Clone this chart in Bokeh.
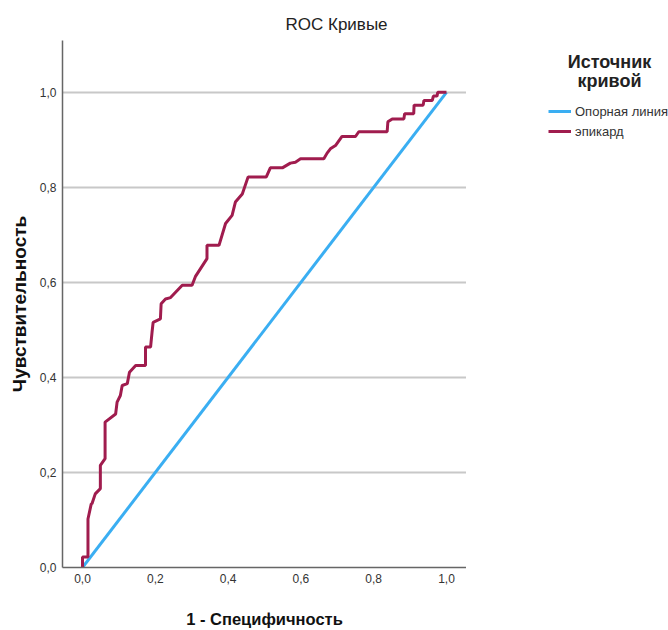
from bokeh.plotting import figure
from bokeh.layouts import row
from bokeh.models import (FixedTicker, CustomJSTickFormatter, Legend, LegendItem,
                          Range1d)
from bokeh.core.properties import value
from bokeh.embed import file_html
from bokeh.resources import INLINE

# ROC curve (1 - specificity, sensitivity)
fpr = [0.0, 0.0, 0.015, 0.015, 0.024, 0.026, 0.035, 0.049, 0.049, 0.062, 0.062,
       0.091, 0.095, 0.104, 0.109, 0.123, 0.129, 0.146, 0.173, 0.173, 0.187,
       0.191, 0.194, 0.214, 0.216, 0.228, 0.242, 0.274, 0.301, 0.310, 0.342,
       0.342, 0.375, 0.393, 0.411, 0.420, 0.439, 0.455, 0.505, 0.516, 0.549,
       0.571, 0.585, 0.599, 0.663, 0.672, 0.681, 0.695, 0.713, 0.750, 0.759,
       0.837, 0.839, 0.851, 0.883, 0.885, 0.910, 0.911, 0.936, 0.938, 0.961,
       0.964, 0.974, 0.976, 1.0]
tpr = [0.0, 0.022, 0.022, 0.102, 0.134, 0.134, 0.155, 0.166, 0.215, 0.229, 0.306,
       0.323, 0.348, 0.362, 0.383, 0.387, 0.411, 0.425, 0.425, 0.464, 0.464,
       0.495, 0.516, 0.523, 0.555, 0.565, 0.568, 0.594, 0.594, 0.612, 0.650,
       0.678, 0.678, 0.724, 0.741, 0.769, 0.786, 0.822, 0.822, 0.841, 0.841,
       0.851, 0.853, 0.860, 0.860, 0.872, 0.881, 0.888, 0.907, 0.907, 0.917,
       0.917, 0.938, 0.944, 0.944, 0.955, 0.955, 0.973, 0.973, 0.983, 0.983,
       0.992, 0.992, 1.0, 1.0]
ref_x = [0.0, 1.0]
ref_y = [0.0, 1.0]
ticks = [0.0, 0.2, 0.4, 0.6, 0.8, 1.0]
series_names = ["Опорная линия", "эпикард"]
legend_title_lines = ["Источник", "кривой"]
chart_title = "ROC Кривые"

FONT = "Liberation Sans"
REF_COLOR = "#3aaef2"
ROC_COLOR = "#a01c4e"

p = figure(width=466, height=630, output_backend="svg", toolbar_location=None,
           x_range=Range1d(-0.055, 1.055), y_range=Range1d(0.0, 1.109),
           min_border_left=62, min_border_right=0, min_border_top=40,
           min_border_bottom=63)
p.outline_line_color = None
p.background_fill_color = "white"
p.border_fill_color = "white"

p.title.text = chart_title
p.title.align = "left"
p.title.offset = 223
p.title.text_font = FONT
p.title.text_font_size = "17px"
p.title.text_font_style = "normal"
p.title.text_color = "#222222"
p.title.standoff = 14

fmt = CustomJSTickFormatter(code="return tick.toFixed(1).replace('.', ',');")
for ax in (p.xaxis[0], p.yaxis[0]):
    ax.ticker = FixedTicker(ticks=ticks)
    ax.formatter = fmt
    ax.major_tick_out = 0
    ax.major_tick_in = 0
    ax.minor_tick_out = 0
    ax.minor_tick_in = 0
    ax.axis_line_color = "#666666"
    ax.axis_line_width = 1.5
    ax.major_label_text_font = FONT
    ax.major_label_text_font_size = "12px"
    ax.major_label_text_color = "#333333"
    ax.axis_label_text_font = FONT
    ax.axis_label_text_font_style = "bold"
    ax.axis_label_text_color = "#111111"

p.xaxis.axis_label = "1 - Специфичность"
p.yaxis.axis_label = "Чувствительность"
p.xaxis.axis_label_text_font_size = "16.5px"
p.yaxis.axis_label_text_font_size = "19px"
p.xaxis.major_label_standoff = 6
p.yaxis.major_label_standoff = 6
p.xaxis.axis_label_standoff = 24
p.yaxis.axis_label_standoff = 7

p.xgrid.grid_line_color = None
p.ygrid.ticker = FixedTicker(ticks=[0.2, 0.4, 0.6, 0.8, 1.0])
p.ygrid.grid_line_color = "#c8c8c8"
p.ygrid.grid_line_width = 2

p.line(ref_x, ref_y, line_color=REF_COLOR, line_width=3)
p.line(fpr, tpr, line_color=ROC_COLOR, line_width=3)

# Legend panel on the right; its frame is aligned with the main frame
# (rows 40..567), so the y range maps data units to page pixels.
q = figure(width=202, height=630, output_backend="svg", toolbar_location=None,
           x_range=Range1d(0, 202), y_range=Range1d(567, 40),
           min_border=0, x_axis_type=None, y_axis_type=None)
q.title = None
q.outline_line_color = None
q.grid.grid_line_color = None
q.background_fill_color = "white"
q.border_fill_color = "white"

q.text(x=[143, 143], y=[61, 80], text=legend_title_lines,
       text_font=value(FONT), text_font_size="18px", text_font_style="bold",
       text_color="#222222", text_align="center", text_baseline="middle")

# legend swatches: renderers kept outside the visible range
l_ref = q.line([-50, -40], [-50, -40], line_color=REF_COLOR, line_width=3)
l_roc = q.line([-50, -40], [-50, -40], line_color=ROC_COLOR, line_width=3)
legend = Legend(items=[LegendItem(label=series_names[0], renderers=[l_ref]),
                       LegendItem(label=series_names[1], renderers=[l_roc])],
                location=(82, 428), background_fill_alpha=0,
                border_line_color=None, label_text_font=FONT,
                label_text_font_size="13px", label_text_color="#333333",
                glyph_width=23, glyph_height=16, label_height=16,
                label_standoff=4, spacing=4, padding=0, margin=0)
q.add_layout(legend, "center")

layout = row(p, q, spacing=0)
open("out.html", "w").write(file_html(layout, INLINE))
